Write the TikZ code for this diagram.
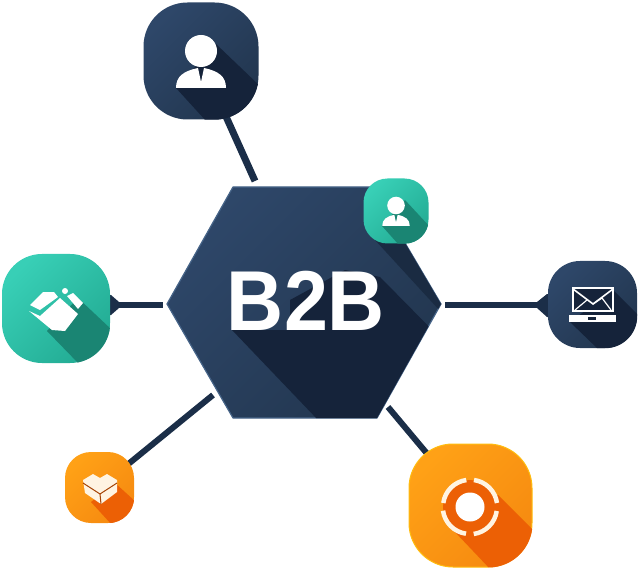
\documentclass[tikz,border=0pt]{standalone}
\usepackage{fontspec}
\setmainfont{Liberation Sans}
\usetikzlibrary{backgrounds}

\definecolor{navylight}{HTML}{2E4769}
\definecolor{navydark}{HTML}{22364F}
\definecolor{navyshadow}{HTML}{15233A}
\definecolor{navyrim}{HTML}{466488}
\definecolor{navyline}{HTML}{1B2E48}
\definecolor{teallight}{HTML}{38CFB6}
\definecolor{tealdark}{HTML}{23AC94}
\definecolor{tealshadow}{HTML}{1A8573}
\definecolor{orangelight}{HTML}{FFA116}
\definecolor{orangedark}{HTML}{F68A10}
\definecolor{orangeshadow}{HTML}{EC6005}
\definecolor{cream}{HTML}{FFF4E2}

\tikzset{
  navytile/.style={shade,top color=navylight,bottom color=navydark,shading angle=45,inner sep=0pt},
  tealtile/.style={shade,top color=teallight,bottom color=tealdark,shading angle=45,inner sep=0pt},
  orangetile/.style={shade,top color=orangelight,bottom color=orangedark,shading angle=45,inner sep=0pt},
  link/.style={draw=navyline,line width=6pt},
  personicon/.pic={
    \fill[white] (0,-10) circle (16);
    \fill[white] (-25,27) .. controls (-25,15) and (-17,10) .. (-3,7) -- (0,21) -- (3,7)
      .. controls (17,10) and (25,15) .. (25,27) -- cycle;
  }
}

\begin{document}
\begin{tikzpicture}[x=1pt,y=-1pt]
  \useasboundingbox (0,0) rectangle (640,572);

  \shade[top color=navylight,bottom color=navydark,shading angle=45,draw=navyrim,line width=1.2pt,line join=round]
    (233,187) -- (372,187) -- (441,304) -- (377,418) -- (233,418) -- (167,304) -- cycle;
  \begin{scope}
    \clip (233,187) -- (372,187) -- (441,304) -- (377,418) -- (233,418) -- (167,304) -- cycle;
    \fill[navyshadow!60!navydark] (375,240) -- (425,240) -- (445,300) -- (441,312) -- cycle;
    \fill[navyshadow] (232,330) -- (290,330) -- (290,300) -- (345,270) -- (380,277) -- (445,343) -- (445,420) -- (318,420) -- cycle;
  \end{scope}
  \node[font=\bfseries\fontsize{85}{85}\selectfont,text=white,inner sep=0pt,xscale=0.93] (hub) at (306,301) {B2B};

  \node[navytile,rounded corners=44pt,minimum width=115pt,minimum height=117pt] (person) at (201,61) {};
  \begin{scope}
    \clip[rounded corners=44pt] (person.south west) rectangle (person.north east);
    \fill[navyshadow] (216,44) -- (262,88) -- (262,122) -- (207,122) -- (176,88) -- cycle;
  \end{scope}
  \pic at (201,61) {personicon};

  \node[tealtile,rounded corners=24pt,minimum width=65pt,minimum height=65pt] (contact) at (396,211) {};
  \begin{scope}
    \clip[rounded corners=24pt] (contact.south west) rectangle (contact.north east);
    \fill[tealshadow] (405,200) -- (430,227) -- (430,245) -- (399,245) -- (382,226) -- cycle;
  \end{scope}
  \pic[scale=0.55] at (396,211) {personicon};

  \node[tealtile,rounded corners=40pt,minimum width=108pt,minimum height=109pt] (deal) at (56,308.5) {};
  \begin{scope}
    \clip[rounded corners=40pt] (deal.south west) rectangle (deal.north east);
    \fill[tealshadow] (78,298) -- (112,330) -- (112,365) -- (80,365) -- (47,331) -- cycle;
  \end{scope}
  \fill[white] (30,305) -- (43,292) -- (54,292) -- (58,297) -- (40,310) -- cycle;
  \fill[white] (29,311) -- (40,316) -- (60,298) -- (78,314) -- (65,331) -- (52,330) -- cycle;
  \fill[white] (67,296) -- (73,293) -- (83,303) -- (78,309) -- cycle;
  \fill[white] (65,291) circle (3);

  \node[navytile,rounded corners=32pt,minimum width=89pt,minimum height=87pt] (mail) at (592.5,304.5) {};
  \begin{scope}
    \clip[rounded corners=32pt] (mail.south west) rectangle (mail.north east);
    \fill[navyshadow] (613,290) -- (639,316) -- (639,350) -- (599,350) -- (570,322) -- cycle;
  \end{scope}
  \fill[navyshadow] (573,288) rectangle (613,311);
  \draw[white,line width=1.6pt] (573,288) rectangle (613,311);
  \draw[white,line width=1.6pt] (573,289) -- (593,304) -- (613,289);
  \draw[white,line width=1.2pt] (575,310) -- (587,300);
  \draw[white,line width=1.2pt] (593,304) -- (602,298) -- (611,310);
  \fill[white] (569,315) rectangle (616,322);
  \fill[navyshadow] (588,317) rectangle (596,319.5);

  \node[orangetile,rounded corners=26pt,minimum width=69pt,minimum height=71pt] (parcel) at (99.5,487.5) {};
  \begin{scope}
    \clip[rounded corners=26pt] (parcel.south west) rectangle (parcel.north east);
    \fill[orangeshadow] (115,483) -- (136,502) -- (136,525) -- (112,525) -- (91,502) -- cycle;
  \end{scope}
  \fill[cream] (83,480) -- (93,474) -- (100,478) -- (107,474) -- (117,480) -- (117,492) -- (101,504) -- (85,493) -- cycle;
  \draw[orangeshadow!70!black,line width=1pt] (83,483) -- (100,494) -- (117,483) (100,494) -- (101,504);

  \node[orangetile,rounded corners=44pt,minimum width=123pt,minimum height=123pt,draw=orangelight!70!yellow,line width=1pt] (target) at (470.5,505.5) {};
  \begin{scope}
    \clip[rounded corners=44pt] (target.south west) rectangle (target.north east);
    \fill[orangeshadow] (498,495) -- (536,533) -- (536,570) -- (491,570) -- (455,532) -- cycle;
  \end{scope}
  \fill[orangeshadow] (470,507) circle (27);
  \draw[cream,line width=4.5pt] (474,480) arc[start angle=-82,end angle=-8,radius=27];
  \draw[cream,line width=4.5pt] (496.7,511) arc[start angle=8,end angle=82,radius=27];
  \draw[cream,line width=4.5pt] (466,533.7) arc[start angle=98,end angle=172,radius=27];
  \draw[cream,line width=4.5pt] (443.3,503) arc[start angle=188,end angle=262,radius=27];
  \fill[white] (470,507) circle (14.5);

  \coordinate (hubN) at (255,181);
  \coordinate (hubW) at (163,305);
  \coordinate (hubE) at (445,305);
  \coordinate (hubSW) at (213,395);
  \coordinate (hubSE) at (388,407);
  \begin{pgfonlayer}{background}
    \draw[link,line width=7pt] (person.center) -- (hubN);
    \draw[link] (deal.center |- hubW) -- (hubW);
    \draw[link] (hubE) -- (mail.center |- hubE);
    \draw[link] (parcel.center) -- (hubSW);
    \draw[link] (target.center) -- (hubSE);
    \fill[navyline] (105,295) -- (111,295) -- (119,302) -- (119,308) -- (111,315) -- (105,315) -- cycle;
    \fill[navyline] (553,294) -- (547,294) -- (537,302) -- (537,308) -- (547,317) -- (553,317) -- cycle;
  \end{pgfonlayer}
\end{tikzpicture}
\end{document}
